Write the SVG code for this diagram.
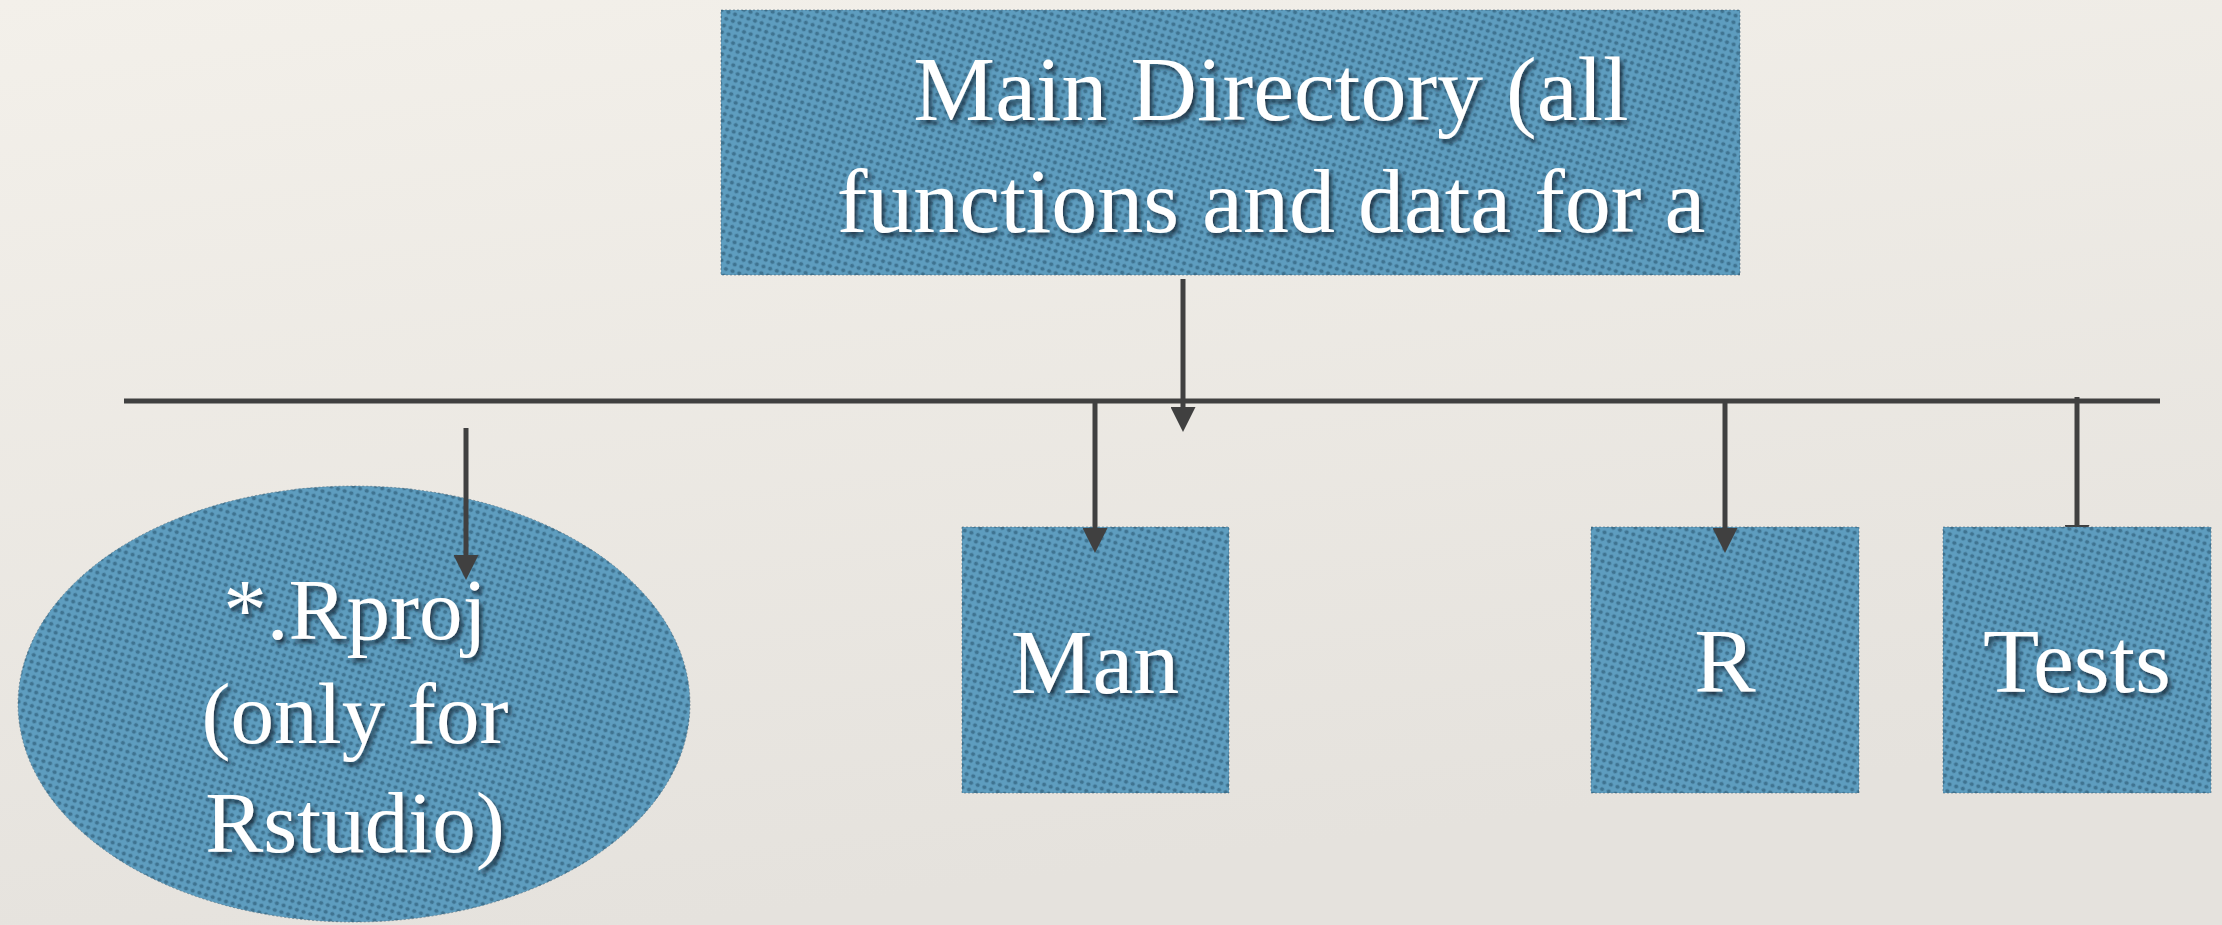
<svg xmlns="http://www.w3.org/2000/svg" width="2222" height="925" viewBox="0 0 2222 925">
  <defs>
    <linearGradient id="paper" x1="0" y1="0" x2="0.3" y2="1">
      <stop offset="0" stop-color="#f3f0ea"/>
      <stop offset="1" stop-color="#e5e2dd"/>
    </linearGradient>
    <!-- woven dot texture used by every node -->
    <pattern id="weave" width="7" height="7" patternUnits="userSpaceOnUse" patternTransform="rotate(18)">
      <rect width="7" height="7" fill="#5e9dbf"/>
      <circle cx="3.5" cy="3.5" r="2.1" fill="#3a6c89" opacity="0.85"/>
    </pattern>
    <filter id="textShadow" x="-10%" y="-20%" width="130%" height="150%">
      <feDropShadow dx="3" dy="4" stdDeviation="2" flood-color="#15293a" flood-opacity="0.85"/>
    </filter>
    <marker id="arrow" viewBox="0 0 25 25" markerWidth="25" markerHeight="25" refX="0" refY="12.5" orient="auto" markerUnits="userSpaceOnUse">
      <path d="M0,0 L25,12.5 L0,25 Z" fill="#404040"/>
    </marker>
  </defs>
  <style>
    .node { fill: url(#weave); stroke: #36566a; stroke-width: 1; stroke-dasharray: 2 2; stroke-opacity: 0.5; }
    .label { font-family: "Liberation Serif", "Times New Roman", serif; fill: #ffffff; text-anchor: middle; filter: url(#textShadow); }
    .big { font-size: 92px; }
    .oval { font-size: 87px; }
    .wire { stroke: #404040; stroke-width: 5; fill: none; }
    .pointer { stroke: #404040; stroke-width: 5; fill: none; marker-end: url(#arrow); }
  </style>

  <rect width="2222" height="925" fill="url(#paper)"/>

  <g id="main-directory">
    <rect class="node" x="721" y="10" width="1019" height="265"/>
    <text class="label big" x="1271" y="120">Main Directory (all</text>
    <text class="label big" x="1271" y="232">functions and data for a</text>
  </g>

  <g id="rproj">
    <ellipse class="node" cx="354" cy="704" rx="336" ry="218"/>
    <text class="label oval" x="355" y="639">*.Rproj</text>
    <text class="label oval" x="355" y="743">(only for</text>
    <text class="label oval" x="355" y="852">Rstudio)</text>
  </g>

  <g id="man">
    <rect class="node" x="962" y="527" width="267" height="266"/>
    <text class="label big" x="1095" y="693">Man</text>
  </g>

  <g id="r">
    <rect class="node" x="1591" y="527" width="268" height="266"/>
    <text class="label big" x="1725" y="692">R</text>
  </g>

  <g id="connectors">
    <line class="wire" x1="124" y1="401" x2="2160" y2="401"/>
    <line class="pointer" x1="1183" y1="279" x2="1183" y2="407"/>
    <line class="pointer" x1="466" y1="428" x2="466" y2="555"/>
    <line class="pointer" x1="1095" y1="401" x2="1095" y2="528"/>
    <line class="pointer" x1="1725" y1="401" x2="1725" y2="528"/>
    <line class="pointer" x1="2077" y1="397" x2="2077" y2="525"/>
  </g>

  <g id="tests">
    <rect class="node" x="1943" y="527" width="268" height="266"/>
    <text class="label big" x="2077" y="692">Tests</text>
  </g>
</svg>
